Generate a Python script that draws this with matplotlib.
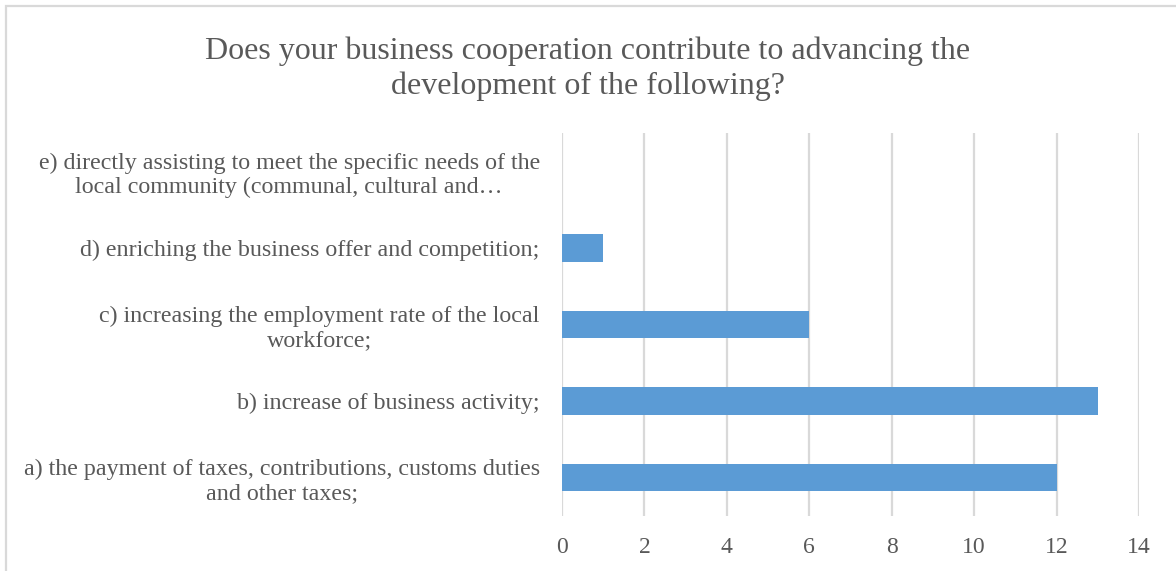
import matplotlib
matplotlib.use("Agg")
import matplotlib.pyplot as plt
from matplotlib.patches import Rectangle

TITLE = "Does your business cooperation contribute to advancing the\ndevelopment of the following?"
categories = [
    "a) the payment of taxes, contributions, customs duties\nand other taxes;",
    "b) increase of business activity;",
    "c) increasing the employment rate of the local\nworkforce;",
    "d) enriching the business offer and competition;",
    "e) directly assisting to meet the specific needs of the\nlocal community (communal, cultural and\u2026",
]
counts = [12, 13, 6, 1, 0]
xticks = [0, 2, 4, 6, 8, 10, 12, 14]

TEXT = "#595959"
GRID = "#D9D9D9"
BAR = "#5B9BD5"

plt.rcParams["font.family"] = ["Liberation Serif", "DejaVu Serif"]

fig = plt.figure(figsize=(11.76, 5.71), dpi=100)
W, H = 1176, 571
ax = fig.add_axes([562 / W, 1 - 516 / H, (1139 - 562) / W, (516 - 133) / H])

# chart area frame, clipped at the right and bottom edges
fig.patches.append(Rectangle((6 / W, -0.1), 1.2, 1 - 6 / H + 0.1,
                             transform=fig.transFigure, fill=False,
                             edgecolor=GRID, linewidth=1.6))

y = range(len(categories))
ax.barh(y, counts, height=0.36, color=BAR, zorder=3)

ax.set_xlim(0, 14)
ax.set_ylim(-0.5, len(categories) - 0.5)
ax.set_xticks(xticks)
ax.set_xticklabels([str(t) for t in xticks])
ax.set_yticks(list(y))
ax.set_yticklabels(categories, multialignment="center")
ax.tick_params(axis="both", length=0, colors=TEXT, labelsize=17)
ax.tick_params(axis="y", labelsize=17.3, pad=16)
ax.tick_params(axis="x", pad=15)
ax.grid(axis="x", color=GRID, linewidth=1.6, zorder=0)
for s in ax.spines.values():
    s.set_visible(False)

fig.text(0.5, 1 - 69 / H, TITLE, ha="center", va="center", fontsize=23,
         color=TEXT, linespacing=1.25)

fig.savefig("out.png", dpi=100)
